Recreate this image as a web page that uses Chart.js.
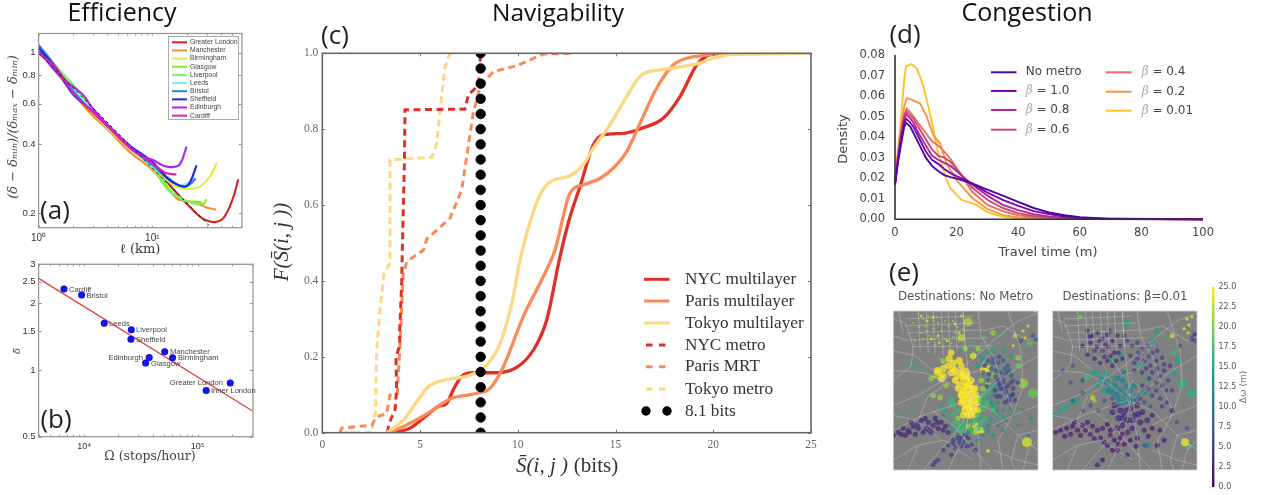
<!DOCTYPE html>
<html><head><meta charset="utf-8">
<script src="https://cdn.jsdelivr.net/npm/chart.js@4"></script>
<style>
html,body{margin:0;padding:0;background:#fff;width:1261px;height:495px;overflow:hidden}
canvas{position:absolute;filter:blur(.5px)}
</style></head><body>
<script>
// ---------- Panel (a) data: path length (km), normalised delta
const cityNames=["Greater London","Manchester","Birmingham","Glasgow","Liverpool","Leeds","Bristol","Sheffield","Edinburgh","Cardiff"];
const cityColors=["#d81f1f","#ee9327","#d9f23c","#86ee1e","#7ff06c","#78eff0","#2f7ff0","#2222e0","#b021ee","#e21fae"];
const greaterLondon=[[1,1],[1.26,.9],[1.54,.8],[2.02,.68],[2.83,.57],[4.24,.47],[6.36,.39],[8,.352],[10,.325],[13,.28],[17,.24],[21,.215],[26.3,.193],[30,.186],[35.6,.183],[42,.19],[48,.214],[53,.245],[57,.281]];
const manchester=[[1,1.02],[1.3,.89],[1.6,.77],[2,.67],[2.8,.55],[4.24,.452],[6.3,.37],[10,.309],[16.4,.232],[20,.226],[24.5,.221],[30,.212],[36.3,.207]];
const birmingham=[[1,1.01],[1.4,.85],[2,.7],[2.8,.57],[4.2,.46],[6.3,.385],[10,.32],[13.4,.279],[16,.262],[20,.255],[26.3,.261],[32,.289],[36.9,.33]];
const glasgow=[[1,1],[1.5,.84],[2.2,.66],[3,.56],[4.5,.45],[7,.37],[10,.32],[15.3,.244],[20,.226],[26.3,.224],[28,.218],[30,.23]];
const liverpool=[[1,1.03],[1.5,.85],[2.2,.69],[3,.57],[4.5,.46],[7,.37],[10,.315],[14,.25],[18,.232],[22,.222],[26.5,.218]];
const leeds=[[1,1.04],[1.4,.85],[2,.69],[3,.56],[4.5,.46],[7,.37],[10,.32],[14,.285],[17,.265],[20,.268],[24,.285]];
const bristol=[[1,1.08],[1.3,.92],[1.7,.76],[2.3,.63],[3,.55],[4.5,.46],[7,.375],[10,.325],[14,.28],[18,.262],[21,.265],[24,.283]];
const sheffield=[[1,1.05],[1.4,.86],[2,.66],[2.8,.57],[4.2,.47],[6.5,.39],[10,.335],[13.5,.285],[17,.265],[20,.262],[22,.28],[24.5,.323]];
const edinburgh=[[1,1.02],[1.5,.8],[2.1,.7],[2.5,.65],[3,.57],[4.5,.46],[7,.375],[8.5,.35],[10,.342],[13,.32],[16.5,.32],[18,.335],[20,.39]];
const cardiff=[[1,.99],[1.4,.87],[2,.67],[2.8,.57],[4.2,.47],[6.5,.38],[10,.33],[13,.3],[16.3,.295]];
const efficiencySeries=[greaterLondon,manchester,birmingham,glasgow,liverpool,leeds,bristol,sheffield,edinburgh,cardiff];
const efficiencyTrend=[[1,1],[32.2,.175]];
const efficiencyYTicks=[.2,.4,.6,.8,1];
// ---------- Panel (b) data
const stopNames=["Cardiff","Bristol","Leeds","Liverpool","Sheffield","Manchester","Birmingham","Edinburgh","Glasgow","Greater London","Inner London"];
const stopsPerHour=[6620,9470,15000,26000,25800,51200,60100,37400,34750,194000,119000];
const deltaBar=[2.32,2.18,1.625,1.52,1.375,1.21,1.137,1.14,1.075,.873,.809];
const stopFit=[[3953,2.59],[305000,.653]];
const deltaTicks=[.5,1,1.5,2,2.5,3];
// ---------- Panel (c) data
const nycMultilayer=[[3.63,0],[4.49,.012],[5.17,.038],[5.94,.069],[6.36,.077],[6.7,.113],[7.13,.149],[7.72,.158],[8.92,.158],[9.94,.172],[10.8,.218],[11.48,.297],[12.16,.464],[12.67,.569],[13.18,.648],[13.86,.758],[14.37,.785],[15.4,.789],[16.42,.804],[17.44,.829],[18.3,.886],[19.15,.969],[19.66,.993],[20.2,.999],[25,1]];
const parisMultilayer=[[3.46,0],[4.49,.025],[5.51,.055],[6.53,.089],[7.9,.104],[8.58,.117],[9.26,.174],[10.28,.306],[11.3,.411],[11.9,.481],[12.67,.631],[13.35,.653],[14.2,.67],[14.88,.697],[15.57,.741],[16.25,.815],[17.1,.908],[17.95,.969],[18.64,.987],[19.66,.995],[20.5,1],[25,1]];
const tokyoMultilayer=[[3.3,0],[4.14,.033],[5.42,.121],[5.85,.133],[7.72,.155],[8.4,.178],[9.09,.235],[9.77,.358],[10.11,.455],[11.39,.648],[12.67,.677],[13.35,.706],[13.86,.75],[14.71,.811],[15.57,.886],[16.34,.943],[17.6,.958],[19.3,.974],[20,.987],[21.1,.998],[25,1]];
const nycMetro=[[3.33,0],[3.38,.015],[3.5,.035],[3.72,.06],[3.8,.113],[3.77,.2],[3.97,.231],[3.95,.26],[4.06,.394],[4.09,.473],[4.2,.71],[4.23,.851],[7.3,.853],[7.47,.89],[7.98,.916],[8.1,1]];
const parisMRT=[[.9,0],[.98,.012],[2.53,.02],[2.78,.042],[3.29,.05],[3.46,.099],[3.84,.103],[3.97,.227],[4.14,.416],[4.32,.451],[5.17,.481],[5.34,.51],[6.53,.565],[7.13,.64],[7.72,.842],[8.07,.912],[8.75,.952],[9.94,.967],[11.3,.998],[12.67,1]];
const tokyoMetro=[[1,0],[2.55,0],[2.6,.04],[2.72,.05],[2.78,.218],[2.95,.323],[3.16,.42],[3.46,.447],[3.46,.719],[5.6,.726],[5.85,.763],[6.1,.886],[6.28,.965],[6.53,1]];
const bitsLine=[[8.1,0],[8.1,.04],[8.1,.08],[8.1,.12],[8.1,.16],[8.1,.2],[8.1,.24],[8.1,.28],[8.1,.32],[8.1,.36],[8.1,.4],[8.1,.44],[8.1,.48],[8.1,.52],[8.1,.56],[8.1,.6],[8.1,.64],[8.1,.68],[8.1,.72],[8.1,.76],[8.1,.8],[8.1,.84],[8.1,.88],[8.1,.92],[8.1,.96],[8.1,1]];
// ---------- Panel (d) data
const noMetro=[[0,.017],[1,.028],[2,.037],[3,.045],[3.6,.047],[5,.045],[6,.042],[8,.036],[10,.03],[12,.026],[14,.0235],[16,.0215],[18,.0205],[20,.0198],[25,.0175],[30,.0145],[35,.0115],[40,.0085],[45,.0055],[50,.0033],[55,.002],[60,.001],[70,.0002],[100,0]];
const beta10=[[0,.017],[1,.029],[2,.039],[3,.047],[3.6,.049],[5,.047],[6,.045],[8,.039],[10,.033],[12,.029],[14,.027],[16,.0245],[18,.0225],[20,.021],[25,.0175],[30,.013],[35,.0095],[40,.0065],[45,.004],[50,.0025],[55,.0013],[60,.0007],[70,.0001],[100,0]];
const beta08=[[0,.017],[1,.03],[2,.041],[3,.049],[3.7,.051],[5,.049],[6,.047],[8,.041],[10,.036],[12,.031],[14,.029],[16,.0275],[18,.026],[20,.0235],[25,.017],[30,.0115],[35,.007],[40,.0045],[45,.0025],[50,.0014],[55,.0007],[60,.0003],[100,0]];
const beta06=[[0,.017],[1,.031],[2,.042],[3,.05],[3.7,.0525],[5,.0505],[6,.049],[8,.044],[10,.039],[12,.034],[14,.031],[16,.03],[18,.028],[20,.0245],[25,.0155],[30,.0095],[35,.0055],[40,.003],[45,.0016],[50,.0008],[55,.0004],[100,0]];
const beta04=[[0,.017],[1,.032],[2,.043],[3,.051],[3.8,.054],[5,.052],[6,.05],[8,.046],[10,.042],[12,.038],[14,.036],[16,.033],[18,.0295],[20,.025],[25,.0135],[30,.007],[35,.004],[40,.002],[45,.001],[50,.0005],[100,0]];
const beta02=[[0,.017],[1,.033],[2,.045],[3,.055],[3.8,.0589],[5,.0585],[6,.0578],[8.1,.0565],[10.3,.05],[12.4,.041],[14.6,.037],[16.8,.027],[20,.019],[25,.0105],[30,.005],[35,.002],[40,.001],[45,.0004],[100,0]];
const beta001=[[0,.017],[1,.034],[2,.05],[3,.068],[3.6,.0745],[5.4,.0756],[7,.0735],[8,.07],[9.2,.0646],[10,.06],[11.9,.048],[14,.032],[16.8,.019],[18,.015],[21.6,.0094],[26.5,.007],[30,.0035],[35,.0012],[40,.0005],[45,.0002],[50,.0001],[100,0]];
const betaSeries=[noMetro,beta10,beta08,beta06,beta04,beta02,beta001];
const betaNames=["No metro","β = 1.0","β = 0.8","β = 0.6","β = 0.4","β = 0.2","β = 0.01"];
const betaColors=["#4a07a6","#7e06a8","#ad2a93","#cc4a78","#ee6e5c","#fb9440","#fdc12a"];
const densityTicks=[0,.01,.02,.03,.04,.05,.06,.07,.08];
// ---------- Panel (e) data: street polylines and station groups (value, size, x/y pairs)
const streets=[
[25,0,27,40],[33,0,35,42],[40,0,42,44],[48,0,50,45],[55,0,57,45],[62,0,64,40],[70,0,72,35],
[12,8,80,5],[12,15,85,12],[14,22,90,19],[16,29,95,27],[18,36,100,35],
[0,8,12,12,20,35,18,55,0,70],[0,25,15,30],[5,0,10,22],[0,95,25,85,50,70,72,55,100,30,125,10,145,2],
[0,120,30,105,60,95,75,90,100,100,125,125,145,140],[0,60,30,62,55,72,75,88,85,125,88,160],[70,0,72,35,75,62,78,90,72,125,55,160],
[145,45,120,60,95,78,80,95,60,125,30,160],[40,100,60,115,90,150,100,160],[0,150,25,135,50,130,80,150],[15,160,25,135],
[100,115,120,105,145,95],[110,160,105,130,120,105,130,75,128,40,115,0],[85,0,88,25,100,45,110,75,120,100],
[0,105,15,108,30,115,48,130],[60,50,70,65,85,60,95,45],[145,120,125,125,118,150,122,160],[0,40,22,45,40,60],[130,160,135,140,145,130],
[80,70,88,78,82,88,74,82,80,70],[45,45,55,60,48,78,35,85,25,110],[100,140,125,150,145,155],[90,20,110,15,135,30,145,25]];
const noMetroStations=[
{v:20,r:1.2,p:[25,3,30,8,35,5,40,10,45,12,32,15,40,18,48,20,55,15,60,10,28,22,36,25,44,26,52,28,62,22,70,18,58,32,66,30,35,32,42,34,50,36,20,12,26,16,34,20,52,10,64,16,44,6,70,24,60,26,22,30,30,28]},
{v:24,r:1.5,p:[28,5,40,6,45,25,38,28,62,13,68,5,130,20,135,15,132,27,120,35,142,0,46,32,54,30,66,22,34,10]},
{v:16,r:1.3,p:[75,30,82,28,90,25,98,30,105,25,88,35,95,38,110,33,78,42,70,40,2,103,8,100,14,97,20,95,25,92,30,88,6,108,12,105,18,102,28,80,22,55,25,58,30,60,18,52,80,35,92,30,102,34,85,22,112,24,16,55,20,60]},
{v:7,r:2.4,p:[95,50,100,48,105,52,110,50,115,55,92,55,98,58,103,60,108,62,113,63,118,65,120,70,95,70,90,62,128,30,140,25,143,28,100,52,106,46,112,58,96,64,102,66,116,60,94,76,110,68]},
{v:5,r:2.4,p:[105,70,110,72,115,75,120,78,108,78,113,82,118,85,102,80,107,86,112,92,122,90,125,72,55,135,60,130,65,128,70,132,75,128,62,138,68,136,72,125,78,135,50,140,58,145,45,150,40,155,82,140,118,72,112,78,106,74,116,90,104,86,120,84,66,132,74,136,60,134,68,128,42,152]},
{v:3,r:2.6,p:[5,122,10,118,15,120,20,116,25,118,30,122,35,112,40,115,45,118,38,122,28,110,22,124,12,125,33,118,48,112,52,116,42,108,55,122,18,112,0,125,8,124,16,122,24,114,32,108,36,120,44,112,50,120]},
{v:12,r:2,p:[100,85,105,92,110,100,115,88,95,115,105,115,100,125,110,120,75,122,65,125,50,105,55,115,45,112,90,125,120,105,125,115,130,100,138,108,135,125,98,92,104,100,112,110,118,98,85,130,95,122]},
{v:14,r:2.4,p:[95,88,100,95,105,105,110,108,98,110,92,118,60,120,52,100,48,95,100,75,105,78,90,48,85,55,100,40,112,40,118,45,88,46,94,42]},
{v:17,r:3,p:[85,105,90,98,72,112,65,115,80,112,92,108,100,100,60,105,58,92,88,90,95,92,70,118,78,120,60,95,65,100,58,88,90,85,95,80,92,95,88,112,62,112,82,110,68,120,85,118]},
{v:21,r:2.8,p:[50,50,42,65,38,68,53,75,40,85,47,87,88,70,85,38,72,38,95,72,100,65,125,47,100,22,65,108,75,116,82,122,90,78]},
{v:25,r:3.3,p:[60,52,50,65,45,62,68,55,62,70,82,78,85,88,68,92,70,105,78,105,85,100,65,78,60,58,55,55,80,45,58,42,90,60,95,58,84,120,82,115,88,120]},
{v:25,r:3.6,p:[68,62,70,66,74,66,78,70,66,74,72,76,76,74,80,78,70,80,74,84,78,90,82,84,84,92,72,96,76,98,80,100,82,104,75,105,70,90,68,84,64,66,58,62,62,60,56,48,50,58,48,68,44,60,66,50]},
{v:25,r:5,p:[72,70,75,78,78,85,70,85,75,92,80,95,73,100,72,62]},
{v:21,r:5,p:[130,73]},{v:19,r:5,p:[140,83]},{v:24,r:5,p:[134,132]},{v:22,r:4.5,p:[75,11]},{v:23,r:3.5,p:[68,27]},{v:18,r:3,p:[137,33]},{v:19,r:3,p:[125,55]},{v:24,r:2,p:[95,141,122,25]}];
const betaStations=[
{v:3,r:2.3,p:[35,20,40,25,45,22,50,28,55,24,60,30,38,32,44,36,50,40,56,36,62,42,35,44,42,48,48,52,55,50,60,55,30,35,65,25,68,35,70,48,37,26,47,30,53,34,58,45,64,50,42,40,52,46,66,42]},
{v:5,r:2.3,p:[75,30,80,35,85,32,90,38,95,35,100,42,105,40,110,47,78,45,85,48,92,50,98,55,105,58,112,60,118,55,82,60,90,62,97,68,104,72,110,75,116,70,120,80,90,75,100,85,108,88,115,92,88,88,72,25,58,20,86,42,96,46,104,50,112,54,82,52,94,58,100,62,108,66,114,80,96,78,104,80,110,96]},
{v:2,r:2.5,p:[3,122,8,120,14,118,20,116,25,120,30,115,35,112,40,116,45,120,50,118,55,114,28,125,18,124,38,124,48,128,58,125,62,130,68,128,72,134,60,140,55,135,65,140,78,130,85,128,92,120,100,118,108,120,112,130,75,145,50,150,45,155,120,100,100,105,105,135,52,132,66,134,58,120,70,124,84,136,96,126,42,128,33,120,12,126,22,112]},
{v:3,r:3,p:[62,95,68,100,72,105,78,98,82,105,75,110,66,108,85,95,90,102,70,115,80,118,60,102,88,112,95,110,65,118,75,122,74,100,80,110,86,104,70,108]},
{v:7,r:2.2,p:[10,60,20,55,30,70,18,72,30,82,38,95,20,90,128,35,140,28,143,30,125,112,135,118,92,135,30,100,60,88,66,94,84,90,92,92,98,96,52,90,46,100]},
{v:11,r:3,p:[62,75,68,80,72,85,78,80,70,70,75,90,80,88,66,88,82,75,60,82,55,72,50,70,85,85,72,62,65,68,92,82,95,135,74,76,64,84,70,92,78,92,56,80]},
{v:14,r:2.8,p:[45,62,52,80,58,78,62,68,45,75,40,62,68,45,60,50,95,68,88,55,105,20,100,30,122,62,125,50,2,105,8,100,14,97,20,93,25,90,48,68,54,64,64,76]},
{v:17,r:1.5,p:[25,2,30,6,35,12,45,18,55,8,70,18,80,15,90,22,112,25,118,35]},
{v:16,r:5,p:[130,73,140,83]},{v:14,r:3.5,p:[74,12]},{v:15,r:3,p:[127,50]},{v:17,r:3.2,p:[34,67,122,42]},
{v:24,r:1.6,p:[135,8,140,6,137,14,132,18,136,22]},{v:23,r:2.5,p:[120,25,40,87]},{v:21,r:2,p:[28,6,42,90]},{v:25,r:4,p:[133,132]},{v:18,r:3,p:[136,136]},{v:3,r:2.5,p:[140,28,143,24]}];
const delayTicks=[0,2.5,5,7.5,10,12.5,15,17.5,20,22.5,25];
const viridisStops=[[68,1,84],[72,40,120],[62,73,137],[49,104,142],[38,130,142],[31,158,137],[53,183,121],[110,206,88],[181,222,43],[253,231,37]];

// ---------- helpers
function viridis(v,a){const t=Math.min(.9999,Math.max(0,v/25))*(viridisStops.length-1),i=Math.floor(t),f=t-i,A=viridisStops[i],B=viridisStops[i+1];
 return `rgba(${A.map((c,k)=>Math.round(c+(B[k]-c)*f)).join(',')},${a})`;}
const pts=a=>a.map(p=>({x:p[0],y:p[1]}));
const decoPlugin={id:'deco',
 beforeDatasetsDraw(ch,_,o){const c=ch.ctx,a=ch.chartArea;if(o.fill){c.fillStyle=o.fill;c.fillRect(a.left,a.top,a.width,a.height);}},
 afterDraw(ch,_,o){const c=ch.ctx,a=ch.chartArea;c.save();
  (o.ticks||[]).forEach(t=>{const s=ch.scales[t.axis],len=t.len||3;c.strokeStyle=o.tickColor||'#666';c.lineWidth=.8;
   t.values.forEach(v=>{const p=Math.round(s.getPixelForValue(v))+.5;c.beginPath();
    if(t.axis==='x'){c.moveTo(p,a.bottom);c.lineTo(p,a.bottom-len);if(t.both){c.moveTo(p,a.top);c.lineTo(p,a.top+len);}}
    else{c.moveTo(a.left,p);c.lineTo(a.left+len,p);if(t.both){c.moveTo(a.right,p);c.lineTo(a.right-len,p);}}
    c.stroke();});});
  if(o.frame){c.strokeStyle=o.frame.color;c.lineWidth=o.frame.width;c.strokeRect(a.left,a.top,a.width,a.height);}
  if(o.spines){c.strokeStyle=o.spines.color;c.lineWidth=o.spines.width;c.beginPath();c.moveTo(a.left,a.top);c.lineTo(a.left,a.bottom);c.lineTo(a.right,a.bottom);c.stroke();}
  if(o.box){const b=o.box;c.fillStyle='#fff';c.strokeStyle='#999';c.lineWidth=.8;c.fillRect(b.x,b.y,b.w,b.h);c.strokeRect(b.x,b.y,b.w,b.h);}
  (o.keys||[]).forEach(k=>{const ox=ch.canvas.__ox,oy=ch.canvas.__oy,x=k.x-ox,y=k.y-oy;
   c.setLineDash(k.dash||[]);c.strokeStyle=k.color;c.lineWidth=k.lw||2;
   if(k.dots){c.setLineDash([]);c.fillStyle=k.color;k.dots.forEach(d=>{c.beginPath();c.arc(d-ox,y,4.7,0,7);c.fill();});}
   else{c.beginPath();c.moveTo(x,y);c.lineTo(x+k.w,y);c.stroke();}
   c.setLineDash([]);c.font=k.font;c.fillStyle=k.tc;c.textBaseline='middle';c.textAlign='left';
   let tx=k.tx-ox,label=k.label;
   if(label[0]==='β'){c.font='italic '+k.font.replace('DejaVu Sans','DejaVu Serif');c.fillStyle='#aaa';c.fillText('β',tx,y);tx+=c.measureText('β').width;label=label.slice(1);c.font=k.font;c.fillStyle=k.tc;}
   c.fillText(label,tx,y);});
  (o.texts||[]).forEach(t=>{c.save();c.translate(t.x-ch.canvas.__ox,t.y-ch.canvas.__oy);if(t.rot)c.rotate(t.rot*Math.PI/180);
   c.font=t.font;c.fillStyle=t.color||'#222';c.textAlign=t.align||'center';c.textBaseline=t.base||'middle';c.fillText(t.s,0,0);c.restore();});
  c.restore();}};
Chart.register(decoPlugin);
function panel(box,plot,cfg,xo,yo,deco,blur){
 const cv=document.createElement('canvas');cv.style.left=box.x+'px';cv.style.top=box.y+'px';cv.style.width=box.w+'px';cv.style.height=box.h+'px';cv.width=box.w;cv.height=box.h;cv.__ox=box.x;cv.__oy=box.y;if(blur)cv.style.filter=`blur(${blur}px)`;document.body.appendChild(cv);
 const right=yo.position==='right';
 const fitX=s=>{s.height=box.y+box.h-plot.b;s.paddingLeft=s.paddingRight=s.paddingTop=s.paddingBottom=0;};
 const fitY=s=>{s.width=right?box.x+box.w-plot.r:plot.l-box.x;s.paddingLeft=s.paddingRight=s.paddingTop=s.paddingBottom=0;};
 const g={display:false,drawTicks:false};
 return new Chart(cv,{...cfg,options:{responsive:false,animation:false,devicePixelRatio:1,events:[],
  layout:{padding:{top:plot.t-box.y,right:right?0:box.x+box.w-plot.r,left:right?plot.l-box.x:0,bottom:0}},
  plugins:{legend:{display:false},tooltip:{enabled:false},deco},
  scales:{x:{grid:g,border:{display:false},afterFit:fitX,...xo,ticks:{autoSkip:false,maxRotation:0,...(xo.ticks||{})}},
          y:{grid:g,border:{display:false},afterFit:fitY,...yo,ticks:{autoSkip:false,maxRotation:0,...(yo.ticks||{})}}}}});
}
const setTicks=vals=>s=>{s.ticks=vals.map(v=>({value:v}));};
const SANS='"Liberation Sans"',SER='"Liberation Serif"',DJ='"DejaVu Sans"',OS='"Open Sans"';

// ---------- (a)
{const keys=cityNames.map((n,i)=>({x:172,y:42.3+i*8.15,w:15,color:cityColors[i],lw:2,tx:190,label:n,font:`6.8px ${SANS}`,tc:'#444'}));
 panel({x:0,y:0,w:262,h:258},{l:38.6,r:242,t:33.5,b:227.7},{type:'line',data:{datasets:[
  ...efficiencySeries.map((s,i)=>({data:pts(s),borderColor:cityColors[i],borderWidth:2.1,pointRadius:0,tension:.3,order:10-i})),
  {data:pts(efficiencyTrend),borderColor:'#222',borderWidth:1,borderDash:[3,3],pointRadius:0,order:0}]}},
 {type:'logarithmic',min:1,max:61.5,afterBuildTicks:setTicks([1,10]),ticks:{color:'#333',padding:5,font:{family:'Liberation Sans',size:10},callback:v=>v===1?'10⁰':'10¹'}},
 {type:'logarithmic',min:.173,max:1.212,afterBuildTicks:setTicks(efficiencyYTicks),ticks:{color:'#333',padding:3,font:{family:'Liberation Sans',size:9.5},callback:v=>String(v)}},
 {frame:{color:'#999',width:1.3},tickColor:'#777',
  ticks:[{axis:'x',both:true,values:[1,2,3,4,5,6,7,8,9,10,20,30,40,50,60],len:2},{axis:'y',both:true,values:efficiencyYTicks}],
  box:{x:168.5,y:36.5,w:70,h:83},keys,
  texts:[{s:'Efficiency',x:122,y:21,font:`25px ${OS}`,base:'alphabetic',color:'#111'},
   {s:'(a)',x:55,y:219,font:`26px ${OS}`,base:'alphabetic',color:'#222'},
   {s:'(δ − δₘᵢₙ)/(δₘₐₓ − δₘᵢₙ)',x:14,y:127,rot:-90,font:`italic 13px "DejaVu Serif"`,color:'#444'},
   {s:'ℓ (km)',x:140,y:250,font:`13px "DejaVu Serif"`,color:'#333'}]},.6);
}
// ---------- (b)
panel({x:0,y:258,w:262,h:237},{l:38.6,r:253,t:264.3,b:436.7},{type:'scatter',data:{datasets:[
 {data:stopsPerHour.map((v,i)=>({x:v,y:deltaBar[i]})),backgroundColor:'#1414f0',pointRadius:3.5,order:1},
 {type:'line',data:pts(stopFit),borderColor:'#e04545',borderWidth:1.4,pointRadius:0,order:2}]}},
 {type:'logarithmic',min:3953,max:308000,afterBuildTicks:setTicks([10000,100000]),ticks:{color:'#333',padding:4,font:{family:'Liberation Sans',size:9},callback:v=>v===10000?'10⁴':'10⁵'}},
 {type:'logarithmic',min:.5,max:3,afterBuildTicks:setTicks(deltaTicks),ticks:{color:'#333',padding:3,font:{family:'Liberation Sans',size:9.5},callback:v=>String(v)}},
 {frame:{color:'#999',width:1.3},tickColor:'#777',
  ticks:[{axis:'x',both:true,values:[4000,5000,6000,7000,8000,9000,10000,20000,30000,40000,50000,60000,70000,80000,90000,100000,200000,300000],len:2},{axis:'y',both:true,values:deltaTicks}],
  texts:[{s:'(b)',x:56,y:428,font:`26px ${OS}`,base:'alphabetic',color:'#222'},
   {s:'Ω (stops/hour)',x:150,y:457,font:`12.5px "DejaVu Serif"`,color:'#444'},
   {s:'δ̄',x:17,y:351,rot:-90,font:`italic 10px "DejaVu Serif"`,color:'#444'},
   ...[[69,289.5],[86.5,295.5],[109,323.5],[136,330],[136,339.5],[170,352],[178,358],[143,358,'right'],[151,364],[223,383,'right'],[211,391]].map((p,i)=>(
     {s:stopNames[i],x:p[0],y:p[1],font:`7.6px ${SANS}`,color:'#444',align:p[2]||'left'}))]},.6);
// ---------- (c)
{const names=["NYC multilayer","Paris multilayer","Tokyo multilayer","NYC metro","Paris MRT","Tokyo metro","8.1 bits"];
 const cols=['#df3027','#fb8a58','#fdd883','#df3027','#fb8a58','#fdd883','#000'];
 const ys=[279.3,301,323,345,366.7,389,411];
 const keys=names.map((n,i)=>{const k={x:644,y:ys[i],w:25.5,color:cols[i],lw:3,tx:685,label:n,font:`17.2px ${SER}`,tc:'#333'};
  if(i>=3&&i<6){k.x=646;k.w=20;k.dash=[6.5,6.5];} if(i===6)k.dots=[646,667]; return k;});
 panel({x:262,y:0,w:568,h:495},{l:322.3,r:811,t:53.3,b:432.7},{type:'line',data:{datasets:[
  {data:pts(tokyoMetro),borderColor:cols[2],borderWidth:3,borderDash:[7,4.5],pointRadius:0,order:6},
  {data:pts(parisMRT),borderColor:cols[1],borderWidth:3,borderDash:[7,4.5],pointRadius:0,order:5},
  {data:pts(nycMetro),borderColor:cols[0],borderWidth:3,borderDash:[7,4.5],pointRadius:0,order:4},
  {data:pts(nycMultilayer),borderColor:cols[0],borderWidth:3.3,pointRadius:0,cubicInterpolationMode:'monotone',order:3},
  {data:pts(parisMultilayer),borderColor:cols[1],borderWidth:3.3,pointRadius:0,cubicInterpolationMode:'monotone',order:2},
  {data:pts(tokyoMultilayer),borderColor:cols[2],borderWidth:3.3,pointRadius:0,cubicInterpolationMode:'monotone',order:1},
  {data:pts(bitsLine),showLine:false,pointRadius:4.7,backgroundColor:'#000',borderColor:'#000',order:0}]}},
 {type:'linear',min:0,max:25,ticks:{stepSize:5,color:'#666',padding:5,font:{family:'Liberation Serif',size:11.5}}},
 {type:'linear',min:0,max:1,ticks:{stepSize:.2,color:'#666',padding:4,font:{family:'Liberation Serif',size:11.5},callback:v=>v.toFixed(1)}},
 {frame:{color:'#666',width:1.6},tickColor:'#555',
  ticks:[{axis:'x',both:true,values:[0,5,10,15,20,25]},{axis:'y',both:true,values:[0,.2,.4,.6,.8,1]}],keys,
  texts:[{s:'Navigability',x:558,y:21,font:`24.5px ${OS}`,base:'alphabetic',color:'#111'},
   {s:'(c)',x:335,y:44,font:`26px ${OS}`,base:'alphabetic',color:'#222'},
   {s:'F(S̄(i, j ))',x:282,y:242,rot:-90,font:`italic 21px ${SER}`,color:'#333'},
   {s:'S̄(i, j )',x:542,y:466,font:`italic 21px ${SER}`,color:'#333'},
   {s:'(bits)',x:596,y:466,font:`21px ${SER}`,color:'#333'}]});
}
// ---------- (d) (this canvas also carries the (e) headings so the map blur leaves them sharp)
{const ys=[72.3,91,110,129.7,72.3,91.7,110.7];
 const keys=betaNames.map((n,i)=>({x:i<4?991:1106,y:ys[i],w:25.5,color:betaColors[i],lw:2,tx:i<4?1025.7:1141.7,label:n,font:`12px ${DJ}`,tc:'#444'}));
 panel({x:830,y:0,w:431,h:306},{l:895,r:1203,t:55,b:219.3},{type:'line',data:{datasets:
  betaSeries.map((s,i)=>({data:pts(s),borderColor:betaColors[i],borderWidth:1.9,pointRadius:0,clip:false}))}},
 {type:'linear',min:0,max:100,ticks:{stepSize:20,color:'#444',padding:7,font:{family:'DejaVu Sans',size:11.5}}},
 {type:'linear',min:0,max:.08,afterBuildTicks:setTicks(densityTicks),ticks:{color:'#444',padding:10,font:{family:'DejaVu Sans',size:11.5},callback:v=>v.toFixed(2)}},
 {spines:{color:'#333',width:1.6},keys,
  texts:[{s:'Congestion',x:1027,y:21,font:`25px ${OS}`,base:'alphabetic',color:'#111'},
   {s:'(d)',x:905,y:43,font:`26px ${OS}`,base:'alphabetic',color:'#222'},
   {s:'Density',x:844,y:139,rot:-90,font:`13px ${DJ}`,color:'#444'},
   {s:'Travel time (m)',x:1048,y:253,font:`13px ${DJ}`,color:'#444'},
   {s:'(e)',x:904,y:281,font:`26px ${OS}`,base:'alphabetic',color:'#222'},
   {s:'Destinations: No Metro',x:965.5,y:297,font:`11.8px ${DJ}`,color:'#555'},
   {s:'Destinations: β=0.01',x:1125,y:297,font:`11.8px ${DJ}`,color:'#555'}]});
}
// ---------- (e) maps
function mapChart(box,plot,stations){
 const ds=[];
 stations.forEach(g=>{const d=[];for(let i=0;i<g.p.length;i+=2)d.push({x:g.p[i],y:g.p[i+1],r:g.r});
  ds.push({type:'bubble',data:d,backgroundColor:viridis(g.v,.72),borderWidth:0,order:2});});
 streets.forEach(s=>{const d=[];for(let i=0;i<s.length;i+=2)d.push({x:s[i],y:s[i+1]});
  ds.push({type:'line',data:d,borderColor:'rgba(225,225,225,.42)',borderWidth:.8,pointRadius:0,order:1});});
 panel(box,plot,{type:'bubble',data:{datasets:ds}},
  {type:'linear',min:0,max:145,ticks:{display:false}},{type:'linear',min:0,max:160,reverse:true,ticks:{display:false}},
  {fill:'#808080',frame:{color:'#cfcfcf',width:.8}},.55);
}
mapChart({x:885,y:306,w:158,h:189},{l:893.3,r:1038,t:310,b:470},noMetroStations);
mapChart({x:1045,y:306,w:158,h:189},{l:1052.7,r:1197,t:309.5,b:470},betaStations);
// ---------- colour bar
{const box={x:1203,y:262,w:58,h:233},plot={l:1212,r:1214.5,t:287,b:487};
 panel(box,plot,{type:'bar',data:{labels:['Δ'],datasets:[{data:[[0,25]],backgroundColor:c=>{
   const a=c.chart.chartArea;if(!a)return '#000';const g=c.chart.ctx.createLinearGradient(0,a.bottom,0,a.top);
   viridisStops.forEach((s,i)=>g.addColorStop(i/(viridisStops.length-1),`rgb(${s.join(',')})`));return g;},barPercentage:1,categoryPercentage:1}]}},
 {type:'category',ticks:{display:false}},
 {type:'linear',position:'right',min:0,max:25,afterBuildTicks:setTicks(delayTicks),ticks:{color:'#555',padding:4,font:{family:'DejaVu Sans',size:8},callback:v=>v.toFixed(1)}},
 {texts:[{s:'Δω (m)',x:1244,y:387,rot:-90,font:`9px ${DJ}`,color:'#777'}]});
}
</script>
</body></html>
